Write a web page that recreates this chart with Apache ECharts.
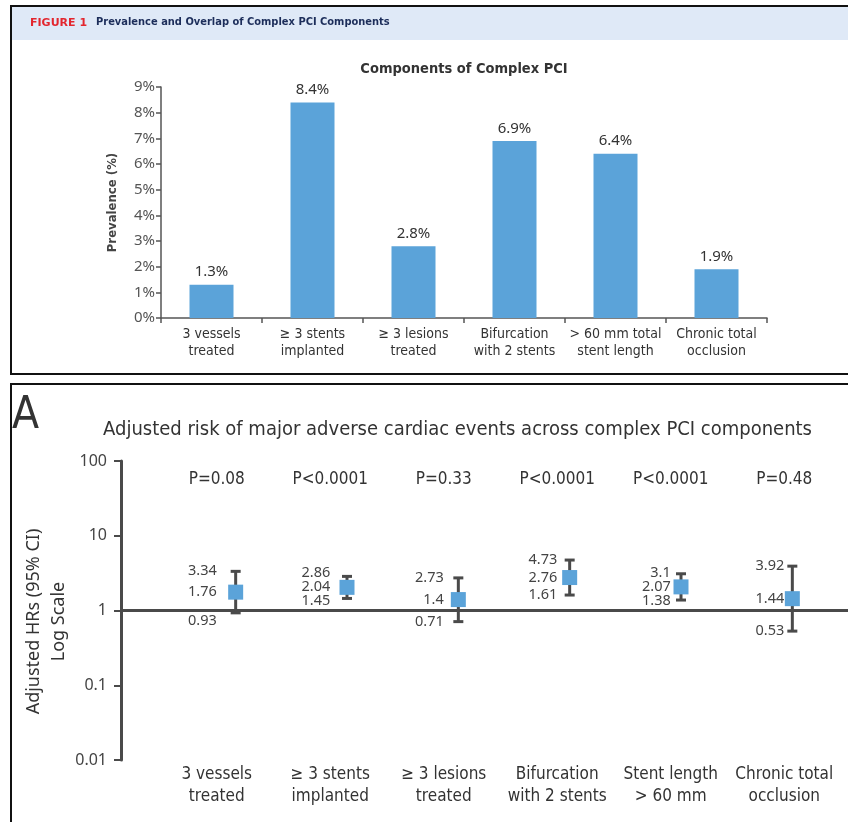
<!DOCTYPE html>
<html>
<head>
<meta charset="utf-8">
<script src="https://cdn.jsdelivr.net/npm/echarts@6/dist/echarts.min.js"></script>
<style>
html,body{margin:0;padding:0;background:#fff;}
#chart{width:848px;height:822px;}
</style>
</head>
<body>
<div id="chart"></div>
<script>
// ---- Data ----
var topCategories = ['3 vessels\ntreated', '\u2265 3 stents\nimplanted', '\u2265 3 lesions\ntreated', 'Bifurcation\nwith 2 stents', '> 60 mm total\nstent length', 'Chronic total\nocclusion'];
var prevalence = [1.3, 8.4, 2.8, 6.9, 6.4, 1.9];
var prevalenceTicks = [0, 1, 2, 3, 4, 5, 6, 7, 8, 9];

var bottomCategories = ['3 vessels\ntreated', '\u2265 3 stents\nimplanted', '\u2265 3 lesions\ntreated', 'Bifurcation\nwith 2 stents', 'Stent length\n> 60 mm', 'Chronic total\nocclusion'];
var pValues = ['P=0.08', 'P<0.0001', 'P=0.33', 'P<0.0001', 'P<0.0001', 'P=0.48'];
var hr = [1.76, 2.04, 1.4, 2.76, 2.07, 1.44];
var ciLow = [0.93, 1.45, 0.71, 1.61, 1.38, 0.53];
var ciHigh = [3.34, 2.86, 2.73, 4.73, 3.1, 3.92];
var hrTicks = [0.01, 0.1, 1, 10, 100];
var referenceHR = 1;

// ---- Styles ----
var narrow = "'DejaVu Sans Condensed', 'Liberation Sans', sans-serif";
var barBlue = '#5ba3d9';
var dark = '#4a4a4a';

var chart = echarts.init(document.getElementById('chart'), null, {renderer: 'canvas'});

var hrRows = hr.map(function (v, i) { return [i, v, ciLow[i], ciHigh[i]]; });

var option = {
  backgroundColor: '#fff',
  animation: false,
  title: [
    {text: 'Components of Complex PCI', left: 459, top: 57, textAlign: 'center',
     textStyle: {fontFamily: narrow, fontSize: 14.5, fontWeight: 'bold', color: '#333'}},
    {text: 'Adjusted risk of major adverse cardiac events across complex PCI components', left: 98, top: 415,
     textStyle: {fontFamily: narrow, fontSize: 20, fontWeight: 'normal', color: '#333'}}
  ],
  graphic: [
    {type: 'rect', shape: {x: 12, y: 7, width: 840, height: 33}, style: {fill: '#dfe9f7'}, z: -1},
    {type: 'rect', shape: {x: 11, y: 6, width: 860, height: 368}, style: {fill: 'none', stroke: '#111', lineWidth: 2}},
    {type: 'rect', shape: {x: 11, y: 384, width: 860, height: 460}, style: {fill: 'none', stroke: '#111', lineWidth: 2}},
    {type: 'text', left: 30, top: 18, style: {text: 'FIGURE 1', fill: '#e3262e', font: "bold 11px 'DejaVu Sans', sans-serif"}},
    {type: 'text', left: 96, top: 17, style: {text: 'Prevalence and Overlap of Complex PCI Components', fill: '#1c2d5a', font: "bold 11px " + narrow}},
    {type: 'text', left: 12, top: 395, style: {text: 'A', fill: '#333', font: "44px " + narrow}}
  ],
  grid: [
    {left: 161, right: 81, top: 87, bottom: 504},
    {left: 121, right: 0, top: 461, bottom: 62},
    {left: 160, right: 7, top: 461, bottom: 62},
    {left: 180, width: 672, top: 461, bottom: 62}
  ],
  xAxis: [
    {gridIndex: 0, type: 'category', data: topCategories,
     axisLine: {lineStyle: {color: '#555', width: 1.5}},
     axisTick: {show: true, length: 5, lineStyle: {color: '#555', width: 1.5}},
     axisLabel: {interval: 0, margin: 8, fontFamily: narrow, fontSize: 14, lineHeight: 17, color: '#333'}},
    {gridIndex: 1, type: 'value', min: 0, max: 1, show: false},
    {gridIndex: 2, type: 'category', data: bottomCategories, position: 'bottom',
     axisLine: {show: false}, axisTick: {show: false},
     axisLabel: {interval: 0, margin: 4, fontFamily: narrow, fontSize: 17, lineHeight: 22, color: '#333'}},
    {gridIndex: 2, type: 'category', data: pValues, position: 'top',
     axisLine: {show: false}, axisTick: {show: false},
     axisLabel: {interval: 0, inside: true, margin: 10, fontFamily: narrow, fontSize: 17, color: '#333'}},
    {gridIndex: 3, type: 'category', data: bottomCategories, show: false}
  ],
  yAxis: [
    {gridIndex: 0, type: 'value', min: prevalenceTicks[0], max: prevalenceTicks[prevalenceTicks.length - 1], interval: 1,
     name: 'Prevalence (%)', nameLocation: 'middle', nameGap: 42,
     nameTextStyle: {fontFamily: narrow, fontSize: 13, fontWeight: 'bold', color: '#444'},
     axisLine: {show: true, lineStyle: {color: '#555', width: 1.5}},
     axisTick: {show: true, length: 5, lineStyle: {color: '#555', width: 1.5}},
     axisLabel: {formatter: '{value}%', margin: 6, fontFamily: "'Noto Sans', sans-serif", fontSize: 15, color: '#555'},
     splitLine: {show: false}},
    {gridIndex: 1, type: 'log', logBase: 10, min: hrTicks[0], max: hrTicks[hrTicks.length - 1],
     name: 'Adjusted HRs (95% CI)\nLog Scale', nameLocation: 'middle', nameGap: 50, nameRotate: 90, nameMoveOverlap: false,
     nameTextStyle: {fontFamily: "'Noto Sans', sans-serif", fontSize: 18, lineHeight: 25, color: '#333', padding: [0, 22, 0, 0]},
     axisLine: {show: true, lineStyle: {color: dark, width: 3}},
     axisTick: {show: true, length: 7, lineStyle: {color: dark, width: 2}},
     axisLabel: {margin: 14, fontFamily: "'Noto Sans', sans-serif", fontSize: 16, color: '#444',
                 formatter: function (v) { return String(v); }},
     splitLine: {show: false}},
    {gridIndex: 2, type: 'log', logBase: 10, min: hrTicks[0], max: hrTicks[hrTicks.length - 1], show: false},
    {gridIndex: 3, type: 'log', logBase: 10, min: hrTicks[0], max: hrTicks[hrTicks.length - 1], show: false}
  ],
  series: [
    {type: 'bar', xAxisIndex: 0, yAxisIndex: 0, data: prevalence, barWidth: 44,
     itemStyle: {color: barBlue},
     label: {show: true, position: 'top', distance: 5, formatter: '{c}%', fontFamily: "'Noto Sans', sans-serif", fontSize: 15, color: '#333'}},
    // reference line at HR = 1
    {type: 'custom', xAxisIndex: 1, yAxisIndex: 1, data: [[0, referenceHR]], z: 1,
     renderItem: function (params, api) {
       var y = api.coord([0, api.value(1)])[1];
       var cs = params.coordSys;
       return {type: 'line', shape: {x1: cs.x, y1: y, x2: cs.x + cs.width, y2: y},
               style: {stroke: dark, lineWidth: 3}};
     }},
    // value labels (HR, lower CI, upper CI), right-aligned at category centre
    {type: 'custom', xAxisIndex: 2, yAxisIndex: 2, data: hrRows, z: 3,
     encode: {x: 0, y: [1, 2, 3]},
     renderItem: function (params, api) {
       var i = api.value(0);
       var yRef = api.coord([i, referenceHR])[1];
       var x = api.coord([i, api.value(1)])[0];
       var vMid = api.value(1), vLo = api.value(2), vHi = api.value(3);
       var yMid = api.coord([i, vMid])[1];
       var yLo = api.coord([i, vLo])[1];
       var yHi = api.coord([i, vHi])[1];
       var gap = 14;
       if (yMid - yHi < gap) { yHi = yMid - gap; }
       if (yLo - yMid < gap) { yLo = yMid + gap; }
       if (Math.abs(yLo - yRef) < 9) { yLo = vLo < referenceHR ? yRef + 10 : yRef - 10; }
       var font = "14.5px 'Noto Sans', sans-serif";
       function t(v, y) {
         return {type: 'text', style: {text: String(v), x: x, y: y, align: 'right', verticalAlign: 'middle', fill: '#444', font: font}};
       }
       return {type: 'group', children: [t(vHi, yHi), t(vMid, yMid), t(vLo, yLo)]};
     }},
    // error bars and point estimates
    {type: 'custom', xAxisIndex: 4, yAxisIndex: 3, data: hrRows, z: 4,
     encode: {x: 0, y: [1, 2, 3]},
     renderItem: function (params, api) {
       var i = api.value(0);
       var pMid = api.coord([i, api.value(1)]);
       var pLo = api.coord([i, api.value(2)]);
       var pHi = api.coord([i, api.value(3)]);
       var x = pMid[0];
       var capW = 10, sq = 15;
       return {type: 'group', children: [
         {type: 'line', shape: {x1: x, y1: pHi[1], x2: x, y2: pLo[1]}, style: {stroke: dark, lineWidth: 3}},
         {type: 'line', shape: {x1: x - capW / 2, y1: pHi[1], x2: x + capW / 2, y2: pHi[1]}, style: {stroke: dark, lineWidth: 3}},
         {type: 'line', shape: {x1: x - capW / 2, y1: pLo[1], x2: x + capW / 2, y2: pLo[1]}, style: {stroke: dark, lineWidth: 3}},
         {type: 'rect', shape: {x: x - sq / 2, y: pMid[1] - sq / 2, width: sq, height: sq}, style: {fill: barBlue}}
       ]};
     }}
  ]
};
chart.setOption(option);
</script>
</body>
</html>
